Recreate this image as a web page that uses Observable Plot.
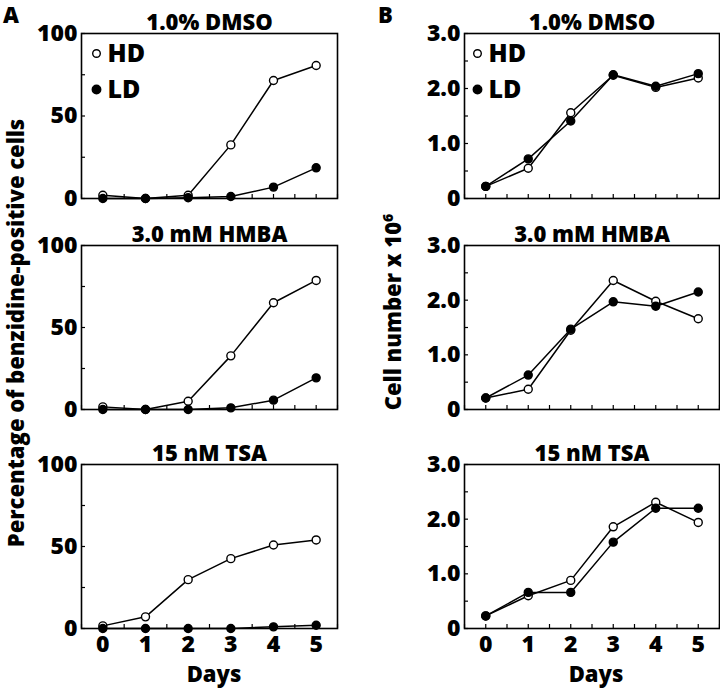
<!DOCTYPE html>
<html>
<head>
<meta charset="utf-8">
<script src="https://cdn.jsdelivr.net/npm/d3@7"></script>
<script src="https://cdn.jsdelivr.net/npm/@observablehq/plot@0.6"></script>
<style>
  html, body { margin: 0; padding: 0; background: white; }
  #root { position: relative; width: 720px; height: 688px; background: white; font-family: "Open Sans", Lato, sans-serif; color: black; overflow: hidden; }
  .abs { position: absolute; }
  .lbl { font-weight: 800; font-size: 24px; line-height: 1; white-space: nowrap; }
  .rot { transform: translate(-50%, -50%) rotate(-90deg); }
  .ctr { transform: translate(-50%, -50%); }
</style>
</head>
<body>
<div id="root"></div>
<script>
// ---- data ----
const days = [0, 1, 2, 3, 4, 5];
const halfDays = [-0.5, 0, 0.5, 1, 1.5, 2, 2.5, 3, 3.5, 4, 4.5, 5, 5.5];
const treatments = ["1.0% DMSO", "3.0 mM HMBA", "15 nM TSA"];
const seriesNames = ["HD", "LD"];

// Percentage of benzidine-positive cells
const benzDMSO_HD = [2, 0, 2, 32.5, 71.5, 80.6];
const benzDMSO_LD = [0, 0, 0.5, 1.2, 6.9, 18.6];
const benzHMBA_HD = [1.6, 0, 5, 32.7, 65.1, 78.7];
const benzHMBA_LD = [0, 0, 0, 1, 5.7, 19.3];
const benzTSA_HD = [1.6, 7.1, 29.8, 42.6, 50.9, 54];
const benzTSA_LD = [0, 0, 0, 0, 1, 2];

// Cell number x 10^6
const cellDMSO_HD = [0.22, 0.55, 1.56, 2.24, 2.02, 2.19];
const cellDMSO_LD = [0.22, 0.72, 1.41, 2.25, 2.04, 2.27];
const cellHMBA_HD = [0.21, 0.37, 1.45, 2.36, 1.98, 1.66];
const cellHMBA_LD = [0.21, 0.63, 1.47, 1.97, 1.89, 2.15];
const cellTSA_HD = [0.23, 0.60, 0.88, 1.86, 2.31, 1.94];
const cellTSA_LD = [0.23, 0.66, 0.66, 1.58, 2.20, 2.20];

const benzTicks = [0, 50, 100];
const benzTickLabels = ["0", "50", "100"];
const benzMinor = [0, 25, 50, 75, 100];
const cellTicks = [0, 1, 2, 3];
const cellTickLabels = ["0", "1.0", "2.0", "3.0"];
const cellMinor = [0, 0.5, 1, 1.5, 2, 2.5, 3];
const dayLabels = ["0", "1", "2", "3", "4", "5"];

const root = document.getElementById("root");
const FONT = "'Open Sans', Lato, sans-serif";
const W = 800;

function rows(hd, ld) {
  const out = [];
  days.forEach((d, i) => out.push({day: d, value: hd[i], series: "HD"}));
  days.forEach((d, i) => out.push({day: d, value: ld[i], series: "LD"}));
  return out;
}

function panel(opts) {
  const {title, hd, ld, yDomain, yTicks, yLabels, yMinor, legend, bottom, left, top, mLeft, mRight, innerH, legendDot, legendText} = opts;
  const data = rows(hd, ld);
  const marginTop = 33, marginBottom = bottom ? 60 : 10;
  const marks = [
    Plot.frame({stroke: "black", strokeWidth: 1.6}),
    Plot.axisY({ticks: yMinor, tickSize: -4, tickFormat: () => "", label: null, strokeWidth: 1.2}),
    Plot.axisY({ticks: yTicks, tickSize: 0, tickPadding: 4, tickFormat: (d) => yLabels[yTicks.indexOf(d)], label: null, fontSize: 23, fontWeight: W}),
    Plot.axisX({ticks: halfDays, tickSize: -4, tickFormat: () => "", label: null, strokeWidth: 1.2}),
    Plot.text([title], {frameAnchor: "top", dy: -11, fontSize: 22, fontWeight: W, lineAnchor: "middle"}),
    Plot.line(data, {x: "day", y: "value", z: "series", stroke: "black", strokeWidth: 1.5}),
    Plot.dot(data, {x: "day", y: "value", r: 4, stroke: "black", strokeWidth: 1.4, fill: (d) => d.series === "HD" ? "white" : "black"})
  ];
  if (bottom) {
    marks.push(Plot.axisX({ticks: days, tickSize: 0, tickPadding: 7, tickFormat: (d) => dayLabels[days.indexOf(d)], label: null, fontSize: 23, fontWeight: W}));
  }
  if (legend) {
    marks.push(
      Plot.dot([seriesNames[0]], {frameAnchor: "top-left", dx: legendDot, dy: 20, r: 3.8, stroke: "black", strokeWidth: 1.4, fill: "white"}),
      Plot.dot([seriesNames[1]], {frameAnchor: "top-left", dx: legendDot, dy: 56, r: 4.2, stroke: "black", fill: "black"}),
      Plot.text([seriesNames[0]], {frameAnchor: "top-left", dx: legendText, dy: 20, text: (d) => d, textAnchor: "start", lineAnchor: "middle", fontSize: 25, fontWeight: W}),
      Plot.text([seriesNames[1]], {frameAnchor: "top-left", dx: legendText, dy: 56, text: (d) => d, textAnchor: "start", lineAnchor: "middle", fontSize: 25, fontWeight: W})
    );
  }
  const svg = Plot.plot({
    width: 360,
    height: marginTop + innerH + marginBottom,
    marginLeft: mLeft,
    marginRight: mRight,
    marginTop,
    marginBottom,
    style: {background: "transparent", overflow: "visible", fontFamily: FONT, color: "black"},
    x: {domain: [-0.5, 5.5]},
    y: {domain: yDomain},
    marks
  });
  svg.style.position = "absolute";
  svg.style.left = left + "px";
  svg.style.top = top + "px";
  root.appendChild(svg);
}

const tops = [0, 212, 431];
const innerHs = [165, 164, 164];
const benzHD = [benzDMSO_HD, benzHMBA_HD, benzTSA_HD];
const benzLD = [benzDMSO_LD, benzHMBA_LD, benzTSA_LD];
const cellHD = [cellDMSO_HD, cellHMBA_HD, cellTSA_HD];
const cellLD = [cellDMSO_LD, cellHMBA_LD, cellTSA_LD];

treatments.forEach((t, i) => {
  panel({title: t, hd: benzHD[i], ld: benzLD[i], yDomain: [0, 100], yTicks: benzTicks, yLabels: benzTickLabels, yMinor: benzMinor,
    legend: i === 0, bottom: i === 2, left: 0, top: tops[i], mLeft: 81, mRight: 23, innerH: innerHs[i], legendDot: 15, legendText: 26});
  panel({title: t, hd: cellHD[i], ld: cellLD[i], yDomain: [0, 3], yTicks: cellTicks, yLabels: cellTickLabels, yMinor: cellMinor,
    legend: i === 0, bottom: i === 2, left: 360, top: tops[i], mLeft: 104, mRight: 1, innerH: innerHs[i], legendDot: 13, legendText: 24});
});

function addText(html, x, y, cls, size) {
  const d = document.createElement("div");
  d.className = "abs lbl " + cls;
  d.style.left = x + "px";
  d.style.top = y + "px";
  d.style.fontWeight = W;
  if (size) d.style.fontSize = size + "px";
  d.innerHTML = html;
  root.appendChild(d);
}
addText("A", 3, 3, "", 22);
addText("B", 378, 3, "", 22);
addText("Percentage of benzidine-positive cells", 15, 333, "rot", 22);
addText("Cell number x 10<sup style=\"font-size:14px;vertical-align:0.55em;line-height:0\">6</sup>", 392, 312, "rot", 22);
addText("Days", 214, 673, "ctr", 22);
addText("Days", 596, 673, "ctr", 22);
</script>
</body>
</html>
